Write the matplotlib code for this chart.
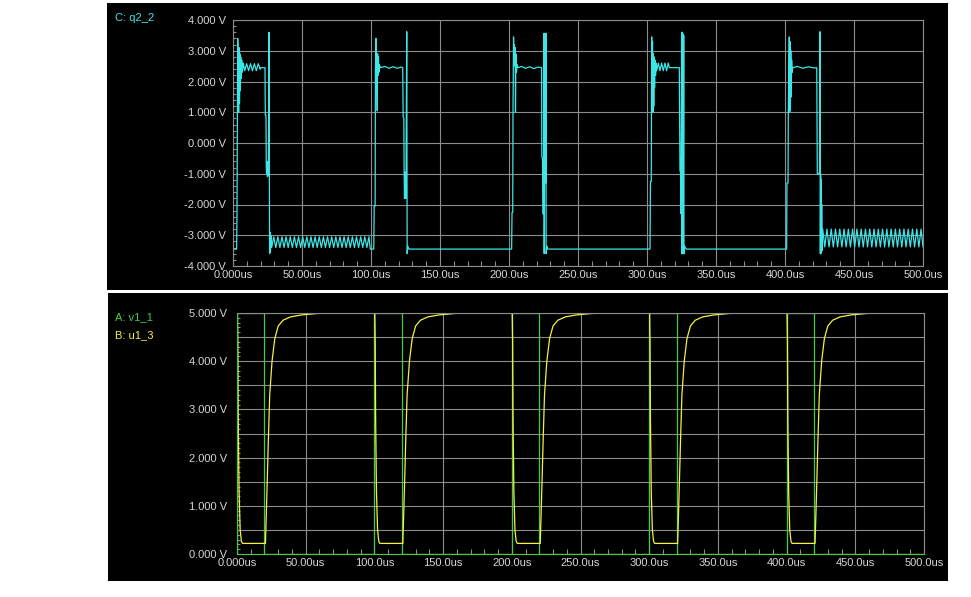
import matplotlib
matplotlib.use("Agg")
import matplotlib.pyplot as plt
from matplotlib.patches import Rectangle
from matplotlib.ticker import MultipleLocator, FixedLocator, FixedFormatter
import numpy as np

# ---- data (time in us, voltage in V) ----

# C: q2_2, one list per 100 us period
q2_cycle1 = [
    (0.0, -3.45), (2.6, -3.45), (2.9, -2.3), (3.4, 3.4), (3.8, 3.0), (4.1, 1.0), (4.4, 3.1),
    (4.7, 1.3), (5.0, 2.9), (5.3, 1.7), (5.6, 2.8), (5.9, 2.1), (6.3, 2.7), (6.8, 2.3),
    (7.5, 2.6), (8.5, 2.35), (9.9, 2.58), (11.3, 2.35), (12.7, 2.58), (14.1, 2.35),
    (15.5, 2.58), (16.9, 2.35), (18.3, 2.58), (19.7, 2.4), (20.2, 2.45), (23.2, 2.45),
    (23.4, 0.9), (23.9, 0.9), (24.1, -0.7), (24.3, -1.0), (24.6, -0.6), (24.9, -1.1),
    (25.6, -1.05), (26.1, 3.6), (26.5, -3.6), (26.8, -2.9), (27.1, -3.55), (27.4, -3.0),
    (28.0, -3.4),
    (29.5, -3.05), (31.0, -3.4), (32.5, -3.05), (34.0, -3.4), (35.5, -3.05), (37.0, -3.4),
    (38.5, -3.05), (40.0, -3.4), (41.5, -3.05), (43.0, -3.4), (44.5, -3.05), (46.0, -3.4),
    (47.5, -3.05), (49.0, -3.4), (50.5, -3.05), (52.0, -3.4), (53.5, -3.05), (55.0, -3.4),
    (56.5, -3.05), (58.0, -3.4), (59.5, -3.05), (61.0, -3.4), (62.5, -3.05), (64.0, -3.4),
    (65.5, -3.05), (67.0, -3.4), (68.5, -3.05), (70.0, -3.4), (71.5, -3.05), (73.0, -3.4),
    (74.5, -3.05), (76.0, -3.4), (77.5, -3.05), (79.0, -3.4), (80.5, -3.05), (82.0, -3.4),
    (83.5, -3.05), (85.0, -3.4), (86.5, -3.05), (88.0, -3.4), (89.5, -3.05), (91.0, -3.4),
    (92.5, -3.05), (94.0, -3.4), (95.5, -3.05), (97.0, -3.4), (98.5, -3.05), (99.5, -3.45),
]
q2_cycle2 = [
    (102.0, -3.45), (102.3, -2.05), (103.0, -2.05), (103.2, 2.3), (103.6, 3.4), (104.0, 2.6),
    (104.5, 1.05), (104.8, 2.9), (105.1, 2.2), (105.4, 2.8), (105.7, 2.3), (106.0, 2.55),
    (107.0, 2.45), (110.0, 2.49), (113.0, 2.43), (116.0, 2.48), (119.0, 2.43), (122.0, 2.47),
    (123.0, 2.45), (123.3, 0.85), (123.8, 0.8), (124.0, -0.9), (124.3, -1.8), (124.5, -0.95),
    (124.8, -1.8), (125.0, -1.0), (125.3, -1.8), (125.9, 3.62), (126.2, -3.6), (126.6, -3.35),
    (127.5, -3.45), (201.9, -3.45),
]
q2_cycle3 = [
    (202.2, -2.25), (202.7, -2.25), (202.9, 1.0), (203.3, 3.45), (203.6, 2.5), (203.9, 3.2),
    (204.2, 2.6), (204.5, 3.1), (204.7, 1.0), (205.0, 2.9), (205.4, 2.3), (205.8, 2.55),
    (206.5, 2.45), (209.0, 2.49), (212.0, 2.43), (215.0, 2.48), (218.0, 2.42), (221.0, 2.47),
    (223.6, 2.45), (223.8, -0.45), (224.3, -0.5), (224.5, -2.3), (225.1, -2.3), (225.4, 3.57),
    (225.5, -3.6), (225.9, 1.2), (226.1, -1.3), (226.3, 1.2), (226.5, -1.3), (226.8, 3.57),
    (226.9, -3.6), (227.3, -3.35), (228.0, -3.45), (302.2, -3.45),
]
q2_cycle4 = [
    (302.5, -1.25), (303.1, -1.25), (303.4, 3.45), (303.7, 2.6), (304.0, 3.3), (304.3, 1.0),
    (304.6, 2.9), (304.9, 1.2), (305.2, 2.8), (305.5, 1.8), (305.8, 2.7), (306.2, 2.2),
    (306.6, 2.6), (307.0, 2.35), (308.2, 2.6), (309.4, 2.35), (310.6, 2.6), (311.8, 2.35),
    (313.0, 2.6), (314.2, 2.35), (315.4, 2.6), (316.2, 2.45), (323.4, 2.45), (323.9, -0.9),
    (324.4, -0.95), (324.6, -2.3), (325.1, 3.6), (325.3, -3.6), (325.6, 3.6), (325.8, -3.6),
    (326.1, 3.55), (326.3, -3.6), (326.6, 3.5), (326.8, -3.6), (327.2, -3.35), (328.3, -3.45),
    (401.2, -3.45),
]
q2_cycle5 = [
    (401.4, -1.3), (402.2, -1.3), (402.4, 1.05), (403.1, 3.45), (403.3, 1.0), (403.6, 3.3),
    (403.9, 1.05), (404.2, 3.0), (404.5, 1.5), (404.8, 2.7), (405.2, 2.3), (405.6, 2.45),
    (409.0, 2.49), (413.0, 2.43), (417.0, 2.48), (421.0, 2.44), (423.0, 2.45), (423.4, -1.0),
    (425.0, -1.0), (425.4, 3.62), (425.6, -3.6), (425.8, -1.0), (426.0, -3.6), (426.2, -1.2),
    (426.4, -3.55), (426.6, -2.0), (426.8, -3.5), (427.3, -2.8),
    (428.8, -3.38), (430.4, -2.8), (431.9, -3.38), (433.5, -2.8), (435.0, -3.38), (436.6, -2.8),
    (438.1, -3.38), (439.7, -2.8), (441.2, -3.38), (442.8, -2.8), (444.3, -3.38), (445.9, -2.8),
    (447.4, -3.38), (449.0, -2.8), (450.5, -3.38), (452.1, -2.8), (453.6, -3.38), (455.2, -2.8),
    (456.7, -3.38), (458.3, -2.8), (459.8, -3.38), (461.4, -2.8), (462.9, -3.38), (464.5, -2.8),
    (466.0, -3.38), (467.6, -2.8), (469.1, -3.38), (470.7, -2.8), (472.2, -3.38), (473.8, -2.8),
    (475.3, -3.38), (476.9, -2.8), (478.4, -3.38), (480.0, -2.8), (481.5, -3.38), (483.1, -2.8),
    (484.6, -3.38), (486.2, -2.8), (487.7, -3.38), (489.3, -2.8), (490.8, -3.38), (492.4, -2.8),
    (493.9, -3.38), (495.5, -2.8), (497.0, -3.38), (498.6, -2.8), (500.0, -3.38),
]

# A: v1_1 pulse corners
v1_time = [0, 0, 20, 20, 100, 100, 120, 120, 200, 200, 220, 220,
           300, 300, 320, 320, 400, 400, 420, 420, 500]
v1_volts = [0, 5, 5, 0, 0, 5, 5, 0, 0, 5, 5, 0,
            0, 5, 5, 0, 0, 5, 5, 0, 0]

# B: u1_3, one list per period
u1_cycle1 = [
    (0.0, 5.0), (0.3, 5.0), (0.6, 4.4), (0.9, 2.8), (1.5, 1.3), (2.3, 0.5), (3.2, 0.26),
    (4.0, 0.22), (20.7, 0.22), (21.3, 0.8), (21.9, 1.4), (22.9, 2.45), (23.8, 3.3),
    (25.5, 4.0), (27.5, 4.47), (30.0, 4.73), (33.5, 4.85), (39.0, 4.92), (47.0, 4.96),
    (58.0, 4.99), (70.0, 5.0),
]
u1_cycle2 = [
    (100.3, 5.0), (100.6, 4.4), (100.9, 2.8), (101.5, 1.3), (102.3, 0.5), (103.2, 0.26),
    (104.0, 0.22), (120.7, 0.22), (121.3, 0.8), (121.9, 1.4), (122.9, 2.45), (123.8, 3.3),
    (125.5, 4.0), (127.5, 4.47), (130.0, 4.73), (133.5, 4.85), (139.0, 4.92), (147.0, 4.96),
    (158.0, 4.99), (170.0, 5.0),
]
u1_cycle3 = [
    (200.3, 5.0), (200.6, 4.4), (200.9, 2.8), (201.5, 1.3), (202.3, 0.5), (203.2, 0.26),
    (204.0, 0.22), (220.7, 0.22), (221.3, 0.8), (221.9, 1.4), (222.9, 2.45), (223.8, 3.3),
    (225.5, 4.0), (227.5, 4.47), (230.0, 4.73), (233.5, 4.85), (239.0, 4.92), (247.0, 4.96),
    (258.0, 4.99), (270.0, 5.0),
]
u1_cycle4 = [
    (300.3, 5.0), (300.6, 4.4), (300.9, 2.8), (301.5, 1.3), (302.3, 0.5), (303.2, 0.26),
    (304.0, 0.22), (320.7, 0.22), (321.3, 0.8), (321.9, 1.4), (322.9, 2.45), (323.8, 3.3),
    (325.5, 4.0), (327.5, 4.47), (330.0, 4.73), (333.5, 4.85), (339.0, 4.92), (347.0, 4.96),
    (358.0, 4.99), (370.0, 5.0),
]
u1_cycle5 = [
    (400.3, 5.0), (400.6, 4.4), (400.9, 2.8), (401.5, 1.3), (402.3, 0.5), (403.2, 0.26),
    (404.0, 0.22), (420.7, 0.22), (421.3, 0.8), (421.9, 1.4), (422.9, 2.45), (423.8, 3.3),
    (425.5, 4.0), (427.5, 4.47), (430.0, 4.73), (433.5, 4.85), (439.0, 4.92), (447.0, 4.96),
    (458.0, 4.99), (470.0, 5.0), (500.0, 5.0),
]

time_ticks = [0, 50, 100, 150, 200, 250, 300, 350, 400, 450, 500]
time_labels = ["0.000us", "50.00us", "100.0us", "150.0us", "200.0us", "250.0us",
               "300.0us", "350.0us", "400.0us", "450.0us", "500.0us"]
top_volt_ticks = [-4, -3, -2, -1, 0, 1, 2, 3, 4]
top_volt_labels = ["-4.000 V", "-3.000 V", "-2.000 V", "-1.000 V", "0.000 V",
                   "1.000 V", "2.000 V", "3.000 V", "4.000 V"]
bot_volt_ticks = [0, 0.5, 1, 1.5, 2, 2.5, 3, 3.5, 4, 4.5, 5]
bot_volt_labels = ["0.000 V", "", "1.000 V", "", "2.000 V", "", "3.000 V", "",
                   "4.000 V", "", "5.000 V"]

CYAN = "#3ce6e6"
GREEN = "#44cc44"
YELLOW = "#f2f244"
GRID = "#8c8c8c"
TXT = "#d6d6d6"
FONT = "Liberation Sans"

W, H = 971, 597
fig = plt.figure(figsize=(W / 100, H / 100), dpi=100, facecolor="white")


def px_rect(x0, y0, x1, y1):
    return [x0 / W, 1 - y1 / H, (x1 - x0) / W, (y1 - y0) / H]


# black panels behind the two traces
for r in (px_rect(107, 3, 948, 290), px_rect(108, 293, 948, 581)):
    fig.add_artist(Rectangle((r[0], r[1]), r[2], r[3], transform=fig.transFigure,
                             facecolor="black", edgecolor="none", zorder=0))


def style_axes(ax, yticks, ylabels, yminor, ypad):
    ax.set_facecolor("black")
    ax.set_xlim(0, 500)
    ax.xaxis.set_major_locator(FixedLocator(time_ticks))
    ax.xaxis.set_major_formatter(FixedFormatter(time_labels))
    ax.xaxis.set_minor_locator(MultipleLocator(10))
    ax.yaxis.set_major_locator(FixedLocator(yticks))
    ax.yaxis.set_major_formatter(FixedFormatter(ylabels))
    ax.yaxis.set_minor_locator(MultipleLocator(yminor))
    ax.grid(True, which="major", color=GRID, lw=0.8)
    ax.tick_params(which="major", length=0, colors=TXT, labelsize=8)
    ax.tick_params(axis="x", which="major", pad=3)
    ax.tick_params(axis="y", which="major", pad=ypad)
    ax.tick_params(axis="x", which="minor", direction="in", length=3.6, width=0.8, color=GRID)
    ax.tick_params(axis="y", which="minor", direction="in", length=2.4, width=0.8, color=GRID)
    for lab in ax.get_xticklabels() + ax.get_yticklabels():
        lab.set_fontfamily(FONT)
    for sp in ax.spines.values():
        sp.set_color(GRID)
        sp.set_linewidth(0.8)


# top: q2_2
ax1 = fig.add_axes(px_rect(233, 20, 923, 266))
style_axes(ax1, top_volt_ticks, top_volt_labels, 0.2, 5)
ax1.set_ylim(-4, 4)
q2 = np.array(q2_cycle1 + q2_cycle2 + q2_cycle3 + q2_cycle4 + q2_cycle5)
ax1.plot(q2[:, 0], q2[:, 1], color=CYAN, lw=0.9)

# bottom: v1_1 and u1_3
ax2 = fig.add_axes(px_rect(237, 313, 924, 554))
style_axes(ax2, bot_volt_ticks, bot_volt_labels, 0.1, 7)
ax2.set_ylim(0, 5)
ax2.spines["left"].set_color(GREEN)
ax2.spines["bottom"].set_color(GREEN)
ax2.plot(v1_time, v1_volts, color=GREEN, lw=0.9)
u1 = np.array(u1_cycle1 + u1_cycle2 + u1_cycle3 + u1_cycle4 + u1_cycle5)
ax2.plot(u1[:, 0], u1[:, 1], color=YELLOW, lw=0.9)

# trace names in the panel corners
fig.text(115 / W, 1 - 18 / H, "C: q2_2", color=CYAN, fontsize=8, family=FONT, va="center")
fig.text(115 / W, 1 - 317 / H, "A: v1_1", color=GREEN, fontsize=8, family=FONT, va="center")
fig.text(115 / W, 1 - 335 / H, "B: u1_3", color=YELLOW, fontsize=8, family=FONT, va="center")

fig.savefig("out.png", dpi=100, facecolor="white")
